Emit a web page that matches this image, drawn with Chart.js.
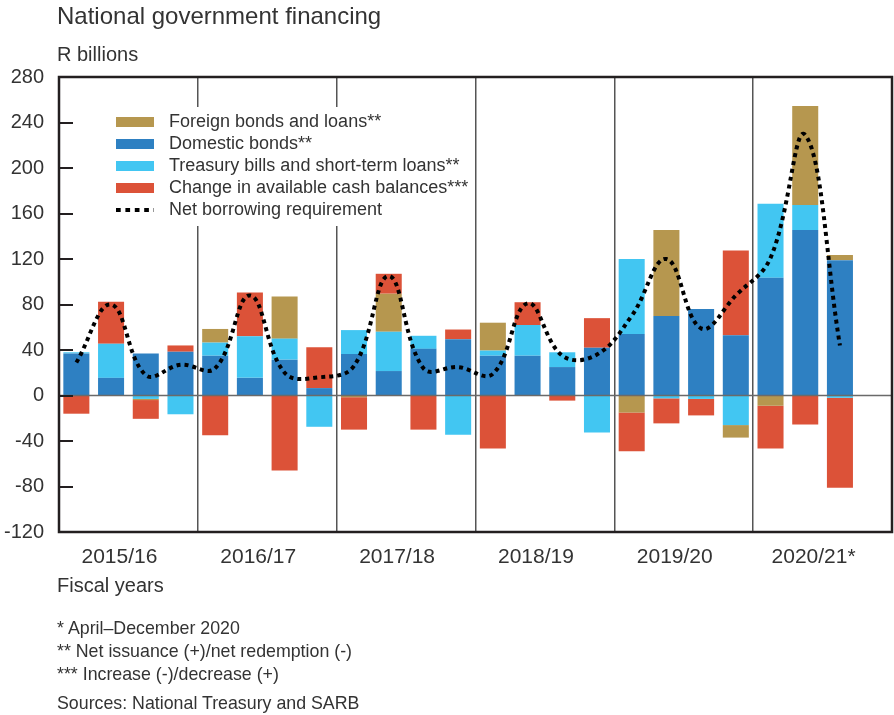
<!DOCTYPE html>
<html>
<head>
<meta charset="utf-8">
<script src="https://cdn.jsdelivr.net/npm/chart.js@4/dist/chart.umd.min.js"></script>
<style>
  body { margin: 0; background: #fff; font-family: "Liberation Sans", Arial, sans-serif; color: #333; }
  #wrap { position: relative; width: 894px; height: 715px; }
  #wrap canvas { position: absolute; left: 0; top: 0; }
  .txt { position: absolute; left: 57px; line-height: 1; white-space: nowrap; }
</style>
</head>
<body>
<div id="wrap">
  <canvas id="chart" width="894" height="715"></canvas>
  <div class="txt" style="top:4px;font-size:24px">National government financing</div>
  <div class="txt" style="top:44px;font-size:20px">R billions</div>
  <div class="txt" style="top:575px;font-size:20px">Fiscal years</div>
  <div class="txt" style="top:620px;font-size:17.8px">* April–December 2020</div>
  <div class="txt" style="top:643px;font-size:17.8px">** Net issuance (+)/net redemption (-)</div>
  <div class="txt" style="top:666px;font-size:17.8px">*** Increase (-)/decrease (+)</div>
  <div class="txt" style="top:695px;font-size:17.8px">Sources: National Treasury and SARB</div>
</div>
<script>
const quarters = ['Q1','Q2','Q3','Q4','Q1','Q2','Q3','Q4','Q1','Q2','Q3','Q4',
                  'Q1','Q2','Q3','Q4','Q1','Q2','Q3','Q4','Q1','Q2','Q3','Q4'];
const fiscalYears = ['2015/16', '2016/17', '2017/18', '2018/19', '2019/20', '2020/21*'];

const domestic = [37, 15.5, 37, 38.5, 35, 15.5, 31.5, 6.5, 36.5, 21.5, 41, 49.5,
                  35, 35, 25, 42, 54, 70, 76, 53, 103.5, 145.5, 119, null];
const treasury = [1, 30, -3, -16.5, 11.5, 36.5, 18.5, -27.5, 21, 34.5, 11.5, -34.5,
                  4.5, 27, 13, -32.5, 66, -2.5, -3, -26, 65, 22, -2, null];
const foreign = [0, 0, -1, 0, 12, 0, 37, 0, -1.5, 33.5, 0, 0,
                 24.5, 0, 0, 0, -15, 75.5, 0, -11, -9, 87, 4.5, null];
const cash = [-16, 37, -16.5, 5.5, -35, 38.5, -66, 36, -28.5, 17.5, -30, 8.5,
              -46.5, 20, -4.5, 26, -34, -22, -14.5, 74.5, -37.5, -25.5, -79, null];
const netBorrowing = [29, 80, 18, 27, 24, 88, 20, 16, 26, 105, 24, 25,
                      19, 81, 35, 36, 70, 120, 59, 88, 121, 229, 44, null];

const COLORS = {
    foreign: '#b6974f',
    domestic: '#2e80c2',
    treasury: '#42c6f2',
    cash: '#dc5238'
};

function barSet(label, data, color) {
    return {
        type: 'bar',
        label: label,
        data: data,
        backgroundColor: color,
        xAxisID: 'x',
        order: 1,
        barPercentage: 0.75,
        categoryPercentage: 1
    };
}

// legend is drawn inside the plot, on a white patch that breaks the dividers
const legendOrder = [2, 0, 1, 3, 4];

const chartDecor = {
    id: 'chartDecor',
    afterDatasetsDraw(chart) {
        const { ctx, chartArea, scales } = chart;
        const y0 = scales.y.getPixelForValue(0);
        ctx.save();
        ctx.strokeStyle = '#6a6a6a';
        ctx.lineWidth = 1.5;
        ctx.beginPath();
        ctx.moveTo(chartArea.left, y0);
        ctx.lineTo(chartArea.right, y0);
        ctx.stroke();
        ctx.restore();
    },
    afterDraw(chart) {
        const { ctx, chartArea, scales } = chart;
        ctx.save();

        // inward tick marks on the value axis
        ctx.strokeStyle = '#231f20';
        ctx.lineWidth = 2;
        scales.y.ticks.forEach(t => {
            const y = Math.round(scales.y.getPixelForValue(t.value));
            ctx.beginPath();
            ctx.moveTo(chartArea.left, y);
            ctx.lineTo(chartArea.left + 14, y);
            ctx.stroke();
        });

        // frame
        ctx.lineWidth = 2.5;
        ctx.strokeRect(chartArea.left, chartArea.top, chartArea.right - chartArea.left, chartArea.bottom - chartArea.top);

        // legend
        ctx.fillStyle = '#fff';
        ctx.fillRect(100, 107, 370, 119);
        ctx.font = '18px "Liberation Sans", Arial, sans-serif';
        ctx.textBaseline = 'middle';
        legendOrder.forEach((idx, row) => {
            const ds = chart.data.datasets[idx];
            const cy = 122 + row * 22;
            if (ds.type === 'line') {
                ctx.strokeStyle = '#000';
                ctx.lineWidth = 4;
                ctx.setLineDash([4.7, 4.7]);
                ctx.beginPath();
                ctx.moveTo(116, cy);
                ctx.lineTo(154, cy);
                ctx.stroke();
                ctx.setLineDash([]);
            } else {
                ctx.fillStyle = ds.backgroundColor;
                ctx.fillRect(116, cy - 5, 38, 10);
            }
            ctx.fillStyle = '#333';
            ctx.fillText(ds.label, 169, cy);
        });
        ctx.restore();
    }
};

const chart = new Chart(document.getElementById('chart'), {
    data: {
        labels: quarters,
        datasets: [
            barSet('Domestic bonds**', domestic, COLORS.domestic),
            barSet('Treasury bills and short-term loans**', treasury, COLORS.treasury),
            barSet('Foreign bonds and loans**', foreign, COLORS.foreign),
            barSet('Change in available cash balances***', cash, COLORS.cash),
            {
                type: 'line',
                label: 'Net borrowing requirement',
                data: netBorrowing,
                xAxisID: 'x',
                order: 0,
                borderColor: '#000',
                borderWidth: 4,
                borderDash: [4, 4],
                borderCapStyle: 'butt',
                tension: 0.4,
                pointRadius: 0,
                fill: false
            }
        ]
    },
    options: {
        responsive: false,
        animation: false,
        layout: { padding: { top: 77, right: 2, left: 0, bottom: 0 } },
        plugins: {
            legend: { display: false },
            tooltip: { enabled: false },
            title: { display: false }
        },
        scales: {
            x: {
                type: 'category',
                stacked: true,
                offset: true,
                display: false
            },
            x2: {
                type: 'category',
                labels: fiscalYears,
                position: 'bottom',
                offset: true,
                grid: {
                    offset: true,
                    drawTicks: false,
                    color: '#555',
                    lineWidth: 1.5
                },
                border: { display: false },
                ticks: {
                    color: '#333',
                    padding: 13,
                    labelOffset: -9,
                    font: { family: '"Liberation Sans", Arial, sans-serif', size: 21 }
                },
                afterFit: function (scale) {
                    scale.height = 183;
                }
            },
            y: {
                stacked: true,
                min: -120,
                max: 280,
                ticks: {
                    stepSize: 40,
                    color: '#333',
                    padding: 15,
                    font: { family: '"Liberation Sans", Arial, sans-serif', size: 20 }
                },
                grid: { display: false, drawTicks: false },
                border: { display: false },
                afterFit: function (scale) {
                    scale.width = 59;
                }
            }
        }
    },
    plugins: [chartDecor]
});
</script>
</body>
</html>
